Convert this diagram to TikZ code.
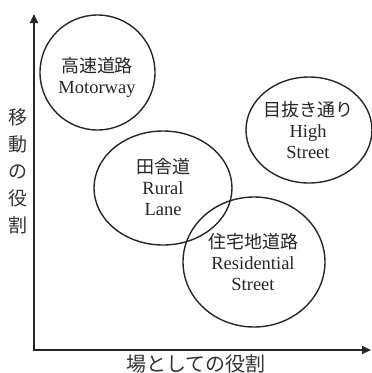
\documentclass[tikz,border=0pt]{standalone}
\usepackage{fontspec}
\setmainfont{Liberation Serif}
\newfontfamily\cjk{Noto Sans CJK JP}
\usetikzlibrary{shapes.geometric,arrows.meta}
\begin{document}
\begin{tikzpicture}[x=1pt,y=-1pt,
  ring/.style={draw=black!85,line width=1.4pt,ellipse,inner sep=0pt},
  lbl/.style={align=center,font=\fontsize{18.5}{21}\selectfont,text=black!85},
  jp/.style={font=\fontsize{20}{21}\selectfont\cjk,text=black!80},
  axis/.style={line width=1.6pt,draw=black!85,{Triangle[length=9pt,width=8pt]}-{Triangle[length=9pt,width=8pt]}}]
\useasboundingbox (0,0) rectangle (372,373);
% axes
\coordinate (ytip) at (34,14);
\coordinate (xtip) at (371,350);
\draw[axis] (ytip) |- (xtip);
% ellipses
\node[ring,minimum width=115pt,minimum height=115pt] (mw) at (97.5,72.5) {};
\node[ring,minimum width=126pt,minimum height=106pt] (hs) at (309,130) {};
\node[ring,minimum width=138pt,minimum height=114pt] (rl) at (163,188) {};
\node[ring,minimum width=142pt,minimum height=130pt] (rs) at (254,262) {};
% labels
\node[lbl] (mwt) at (97,77) {{\cjk\fontsize{18}{21}\selectfont 高速道路}\\Motorway};
\node[lbl] (hst) at (308,130) {{\cjk\fontsize{18}{21}\selectfont 目抜き通り}\\High\\Street};
\node[lbl] (rlt) at (163,187) {{\cjk\fontsize{18}{21}\selectfont 田舎道}\\Rural\\Lane};
\node[lbl] (rst) at (253,262) {{\cjk\fontsize{18}{21}\selectfont 住宅地道路}\\Residential\\Street};
% axis labels
\node[jp,align=center,font=\fontsize{19}{27}\selectfont\cjk] (yl) at (18,171) {移\\動\\の\\役\\割};
\node[jp] (xl) at (196,364) {場としての役割};
\end{tikzpicture}
\end{document}
